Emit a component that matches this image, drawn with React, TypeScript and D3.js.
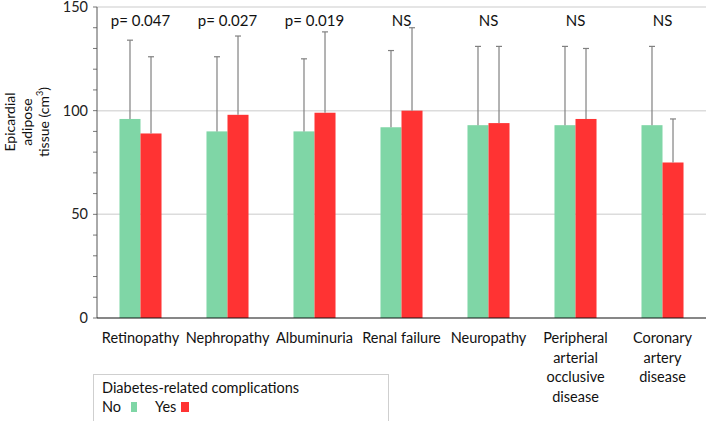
import React from "react";
import * as d3 from "d3";

const categories = [
  ["Retinopathy"],
  ["Nephropathy"],
  ["Albuminuria"],
  ["Renal failure"],
  ["Neuropathy"],
  ["Peripheral", "arterial", "occlusive", "disease"],
  ["Coronary", "artery", "disease"],
];
const noValues = [96, 90, 90, 92, 93, 93, 93];
const yesValues = [89, 98, 99, 100, 94, 96, 75];
const noUpper = [134, 126, 125, 129, 131, 131, 131];
const yesUpper = [126, 136, 138, 140, 131, 130, 96];
const pLabels = ["p= 0.047", "p= 0.027", "p= 0.019", "NS", "NS", "NS", "NS"];
const seriesNames = ["No", "Yes"];
const colors = ["#7fd6a6", "#ff3333"];

const font = "Lato, 'Open Sans', sans-serif";

export default function App() {
  const width = 709;
  const height = 421;
  const margin = { left: 97, right: 3, top: 7, bottom: 103 };

  const x = d3
    .scaleBand<number>()
    .domain(d3.range(categories.length))
    .range([margin.left, width - margin.right]);
  const inner = d3
    .scaleBand<number>()
    .domain([0, 1])
    .range([0, x.bandwidth()])
    .paddingOuter(1.07)
    .paddingInner(0);
  const y = d3
    .scaleLinear()
    .domain([0, 150])
    .range([height - margin.bottom, margin.top]);

  const bw = inner.bandwidth();
  const series = [noValues, yesValues];
  const uppers = [noUpper, yesUpper];

  return (
    <svg
      width={width}
      height={height}
      style={{ position: "absolute", left: 0, top: 0, background: "#fff" }}
      fontFamily={font}
    >
      {/* gridlines */}
      {[50, 100, 150].map((v) => (
        <line
          key={v}
          x1={margin.left}
          x2={width - margin.right}
          y1={y(v)}
          y2={y(v)}
          stroke="#dcdcdc"
          strokeWidth={1.5}
        />
      ))}
      {/* minor ticks */}
      {d3.range(0, 151, 10).map((v) => (
        <line key={v} x1={margin.left - 4} x2={margin.left} y1={y(v)} y2={y(v)} stroke="#777" />
      ))}
      {[0, 50, 100, 150].map((v) => (
        <text key={v} x={margin.left - 9} y={y(v) + 5} textAnchor="end" fontSize={14.5} fill="#222">
          {v}
        </text>
      ))}
      <line x1={margin.left} x2={margin.left} y1={y(150)} y2={y(0)} stroke="#555" />

      {/* bars */}
      {series.map((vals, s) =>
        vals.map((v, i) => (
          <rect
            key={`${s}-${i}`}
            x={x(i)! + inner(s)!}
            y={y(v)}
            width={bw}
            height={y(0) - y(v)}
            fill={colors[s]}
          />
        ))
      )}
      {/* error bars */}
      {series.map((vals, s) =>
        vals.map((v, i) => {
          const cx = x(i)! + inner(s)! + bw / 2;
          return (
            <g key={`e${s}-${i}`} stroke="#808080" strokeWidth={1.2}>
              <line x1={cx} x2={cx} y1={y(v)} y2={y(uppers[s][i])} />
              <line x1={cx - 3} x2={cx + 3} y1={y(uppers[s][i])} y2={y(uppers[s][i])} />
            </g>
          );
        })
      )}
      <line x1={margin.left} x2={width - margin.right} y1={y(0)} y2={y(0)} stroke="#111" strokeWidth={1.2} />

      {/* p labels */}
      {pLabels.map((p, i) => (
        <text key={i} x={x(i)! + x.bandwidth() / 2} y={26} textAnchor="middle" fontSize={15} fill="#111">
          {p}
        </text>
      ))}

      {/* category labels */}
      {categories.map((lines, i) => (
        <text key={i} x={x(i)! + x.bandwidth() / 2} y={343} textAnchor="middle" fontSize={14.5} fill="#111">
          {lines.map((l, j) => (
            <tspan key={j} x={x(i)! + x.bandwidth() / 2} dy={j === 0 ? 0 : 19.5}>
              {l}
            </tspan>
          ))}
        </text>
      ))}

      {/* y title */}
      <text transform="translate(27,122) rotate(-90)" textAnchor="middle" fontSize={14} fill="#111">
        <tspan x={0} y={-12}>Epicardial</tspan>
        <tspan x={0} y={5}>adipose</tspan>
        <tspan x={0} y={22}>
          tissue (cm<tspan fontSize={9} dy={-6}>3</tspan>
          <tspan dy={6}>)</tspan>
        </tspan>
      </text>

      {/* legend */}
      <rect x={93.5} y={374.5} width={295} height={60} fill="none" stroke="#cfcfcf" />
      <text x={102} y={393} fontSize={14.5} fill="#111">
        Diabetes-related complications
      </text>
      <text x={102} y={412} fontSize={14.5} fill="#111">
        {seriesNames[0]}
      </text>
      <rect x={131} y={402} width={6} height={10} fill={colors[0]} />
      <text x={155} y={412} fontSize={14.5} fill="#111">
        {seriesNames[1]}
      </text>
      <rect x={181} y={402} width={8} height={10} fill={colors[1]} />
    </svg>
  );
}
